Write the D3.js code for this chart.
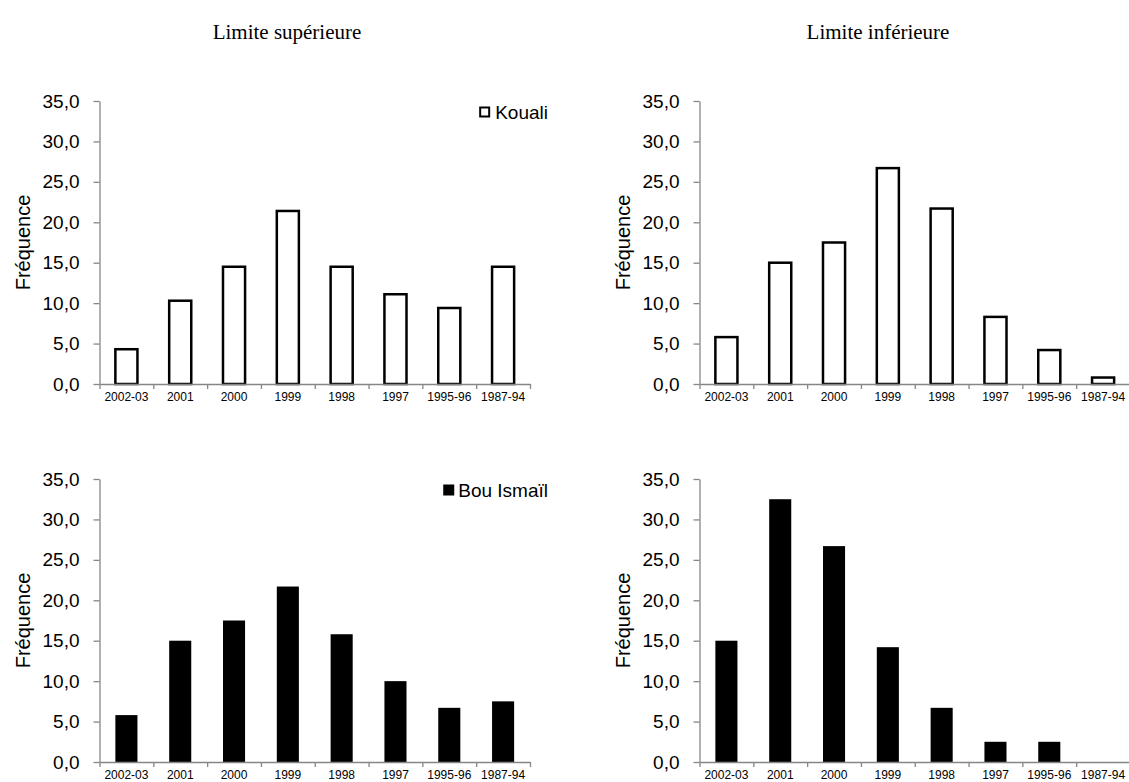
<!DOCTYPE html>
<html>
<head>
<meta charset="utf-8">
<script src="https://cdn.jsdelivr.net/npm/d3@7"></script>
<style>
  html, body { margin: 0; padding: 0; background: #fff; }
  svg { display: block; }
</style>
</head>
<body>
<svg id="chart" width="1129" height="782"></svg>
<script>
// Age classes (cohorts) on the x axis
const categories = ["2002-03", "2001", "2000", "1999", "1998", "1997", "1995-96", "1987-94"];

// Frequencies (%) per site and depth limit
const koualiSup     = [4.3, 10.3, 14.5, 21.4, 14.5, 11.1, 9.4, 14.5];
const koualiInf     = [5.8, 15.0, 17.5, 26.7, 21.7, 8.3, 4.2, 0.8];
const bouIsmailSup  = [5.8, 15.0, 17.5, 21.7, 15.8, 10.0, 6.7, 7.5];
const bouIsmailInf  = [15.0, 32.5, 26.7, 14.2, 6.7, 2.5, 2.5, 0.0];

const yTicks = [0, 5, 10, 15, 20, 25, 30, 35];
const columnTitles = ["Limite supérieure", "Limite inférieure"];
const yLabel = "Fréquence";
const legendLabels = ["Kouali", "Bou Ismaïl"];

const svg = d3.select("#chart");
const fmt = v => d3.format(".1f")(v).replace(".", ",");
const axisColor = "#868686";
const sans = "Arial, 'Liberation Sans', sans-serif";
const serif = "'Times New Roman', 'Liberation Serif', serif";

const panelW = 430.5, panelH = 283;

const panels = [
  { x: 99.5,  y: 101, values: koualiSup,    filled: false, legend: legendLabels[0] },
  { x: 699.5, y: 101, values: koualiInf,    filled: false, legend: null },
  { x: 99.5,  y: 479, values: bouIsmailSup, filled: true,  legend: legendLabels[1] },
  { x: 699.5, y: 479, values: bouIsmailInf, filled: true,  legend: null }
];

// Column titles
svg.append("text").attr("x", 287).attr("y", 39).attr("text-anchor", "middle")
  .style("font-family", serif).style("font-size", "21px").text(columnTitles[0]);
svg.append("text").attr("x", 878).attr("y", 39).attr("text-anchor", "middle")
  .style("font-family", serif).style("font-size", "21px").text(columnTitles[1]);

panels.forEach(p => {
  const g = svg.append("g").attr("transform", `translate(${p.x},${p.y})`);

  const y = d3.scaleLinear().domain([0, 35]).range([panelH, 0]);
  const x = d3.scaleBand().domain(categories).range([0, panelW])
    .paddingInner(0.59).paddingOuter(0.295);
  const xBound = d3.scaleLinear().domain([0, categories.length]).range([0, panelW]);

  // Bars
  g.selectAll("rect.bar").data(p.values).join("rect")
    .attr("class", "bar")
    .attr("x", (d, i) => x(categories[i]))
    .attr("width", x.bandwidth())
    .attr("y", d => y(d))
    .attr("height", d => y(0) - y(d))
    .attr("fill", p.filled ? "#000" : "#fff")
    .attr("stroke", p.filled ? "none" : "#000")
    .attr("stroke-width", p.filled ? 0 : 2.5);

  // Y axis
  const yAxis = g.append("g").call(
    d3.axisLeft(y).tickValues(yTicks).tickFormat(fmt).tickSize(6).tickSizeOuter(0).tickPadding(14)
  );
  yAxis.select(".domain").attr("stroke", axisColor).attr("stroke-width", 1.3);
  yAxis.selectAll(".tick line").attr("stroke", axisColor).attr("stroke-width", 1.3);
  yAxis.selectAll(".tick text").style("font-family", sans).style("font-size", "19px").attr("fill", "#000");

  // X axis: boundary ticks between classes
  const xAxisTicks = g.append("g").attr("transform", `translate(0,${panelH})`).call(
    d3.axisBottom(xBound).tickValues(d3.range(categories.length + 1))
      .tickFormat("").tickSize(5).tickSizeOuter(0)
  );
  xAxisTicks.select(".domain").attr("stroke", axisColor).attr("stroke-width", 1.3);
  xAxisTicks.selectAll(".tick line").attr("stroke", axisColor).attr("stroke-width", 1.3);

  // X axis labels
  const xLabels = g.append("g").attr("transform", `translate(0,${panelH})`).call(
    d3.axisBottom(x).tickSize(0).tickPadding(8)
  );
  xLabels.select(".domain").remove();
  xLabels.selectAll(".tick text").style("font-family", sans).style("font-size", "12px").attr("fill", "#000");

  // Y axis title
  g.append("text")
    .attr("transform", `translate(${-70},${panelH / 2}) rotate(-90)`)
    .attr("text-anchor", "middle")
    .style("font-family", sans).style("font-size", "20px")
    .text(yLabel);

  // Legend, right-aligned past the end of the x axis
  if (p.legend) {
    const lg = g.append("g").attr("transform", `translate(${panelW + 18},${11})`);
    const label = lg.append("text").attr("x", 0).attr("y", 7).attr("text-anchor", "end")
      .style("font-family", sans).style("font-size", "19px").text(p.legend);
    const tw = label.node().getComputedTextLength();
    if (p.filled) {
      lg.append("rect").attr("x", -tw - 15).attr("y", -5.5).attr("width", 11).attr("height", 11).attr("fill", "#000");
    } else {
      lg.append("rect").attr("x", -tw - 15).attr("y", -4.5).attr("width", 9).attr("height", 9)
        .attr("fill", "#fff").attr("stroke", "#000").attr("stroke-width", 2);
    }
  }
});
</script>
</body>
</html>
